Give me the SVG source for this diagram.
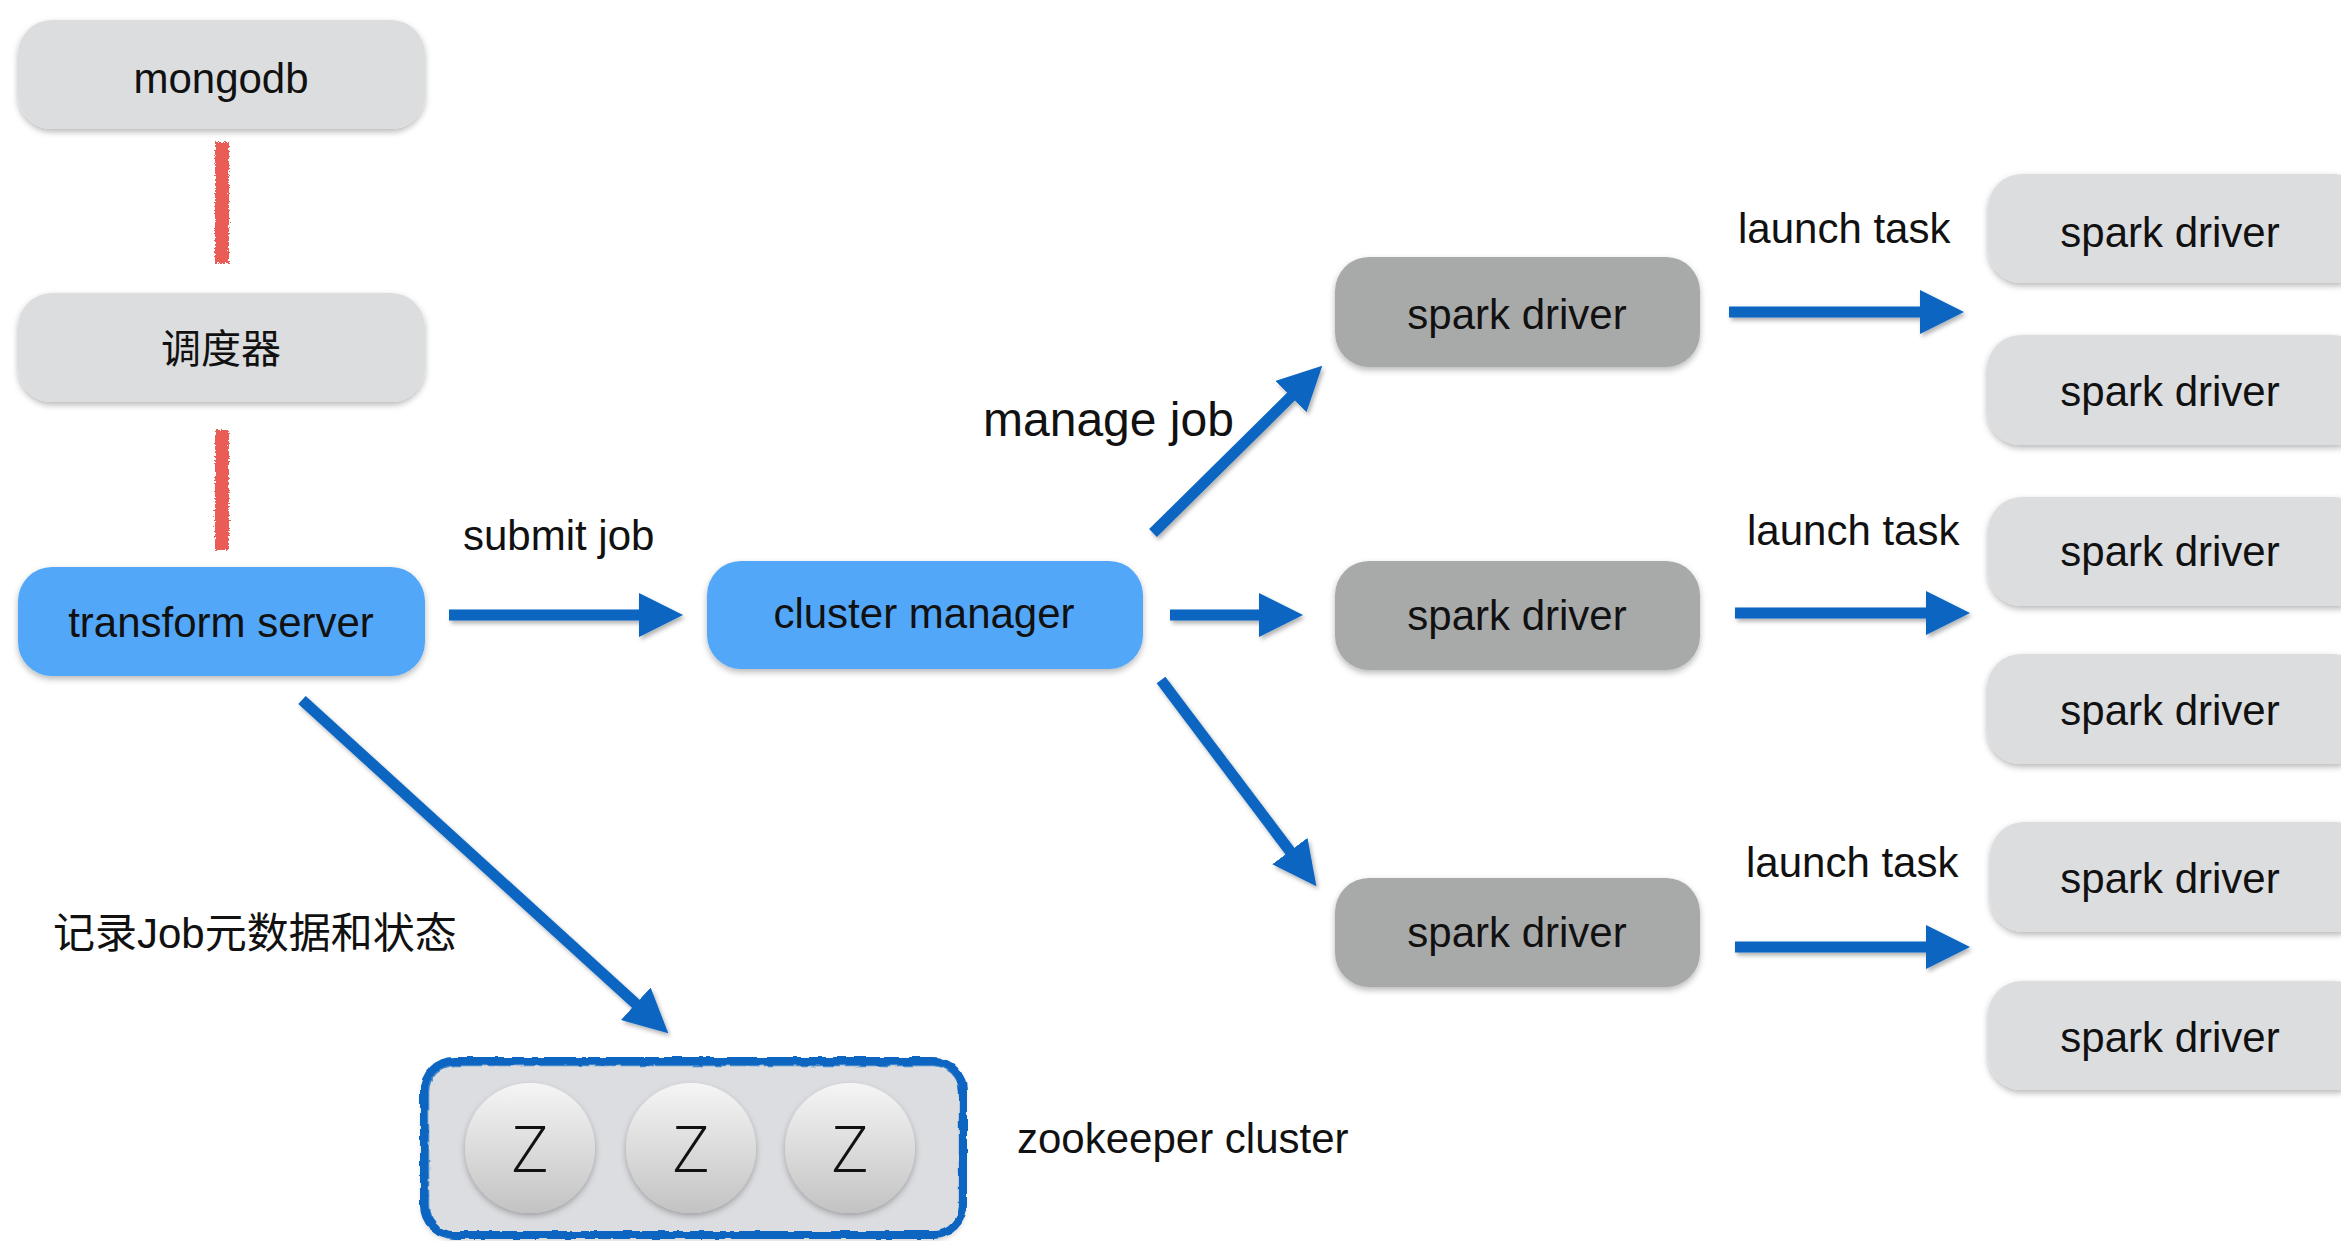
<svg xmlns="http://www.w3.org/2000/svg" width="2341" height="1241" viewBox="0 0 2341 1241">
  <defs>
    <style>
      .t { font-family: "Liberation Sans", Arial, sans-serif; font-size: 42px; fill: #111; }
      .c { text-anchor: middle; }
      .blue { fill: #53a7f8; }
      .dark { fill: #a8a9a9; }
      .light { fill: #dcdddf; }
      .conn { stroke: #0865c2; stroke-width: 11; fill: none; marker-end: url(#head); }
      .red { fill: #e95d57; }
      .z { font-family: "Open Sans", "Liberation Sans", sans-serif; font-weight: 300; font-size: 64px; fill: #111; text-anchor: middle; }
    </style>
    <filter id="shadow" x="-10%" y="-20%" width="120%" height="150%">
      <feDropShadow dx="0" dy="3" stdDeviation="3" flood-color="#000" flood-opacity="0.28"/>
    </filter>
    <filter id="ashadow" x="-20%" y="-20%" width="140%" height="140%">
      <feDropShadow dx="2" dy="3" stdDeviation="2" flood-color="#000" flood-opacity="0.3"/>
    </filter>
    <filter id="chalk" x="-50%" y="-10%" width="200%" height="120%">
      <feTurbulence type="fractalNoise" baseFrequency="0.6" numOctaves="2" seed="3" result="n"/>
      <feDisplacementMap in="SourceGraphic" in2="n" scale="5" xChannelSelector="R" yChannelSelector="G"/>
    </filter>
    <filter id="rough" x="-5%" y="-10%" width="110%" height="120%">
      <feTurbulence type="fractalNoise" baseFrequency="0.08" numOctaves="2" seed="7" result="n"/>
      <feDisplacementMap in="SourceGraphic" in2="n" scale="4" xChannelSelector="R" yChannelSelector="G"/>
    </filter>
    <linearGradient id="ball" x1="0" y1="0" x2="0" y2="1">
      <stop offset="0" stop-color="#f5f5f5"/>
      <stop offset="1" stop-color="#c3c3c3"/>
    </linearGradient>
    <marker id="head" viewBox="0 0 44 44" refX="1" refY="22" markerWidth="44" markerHeight="44" markerUnits="userSpaceOnUse" orient="auto">
      <path d="M0,0 L44,22 L0,44 z" fill="#0865c2"/>
    </marker>
  </defs>

  <rect width="2341" height="1241" fill="#ffffff"/>

  <g id="connectors">
    <rect class="red" x="215" y="142" width="14" height="121" filter="url(#chalk)"/>
    <rect class="red" x="215" y="430" width="14" height="120" filter="url(#chalk)"/>
    <g filter="url(#ashadow)">
      <line class="conn" x1="449" y1="615" x2="640" y2="615"/>
      <line class="conn" x1="302" y1="700" x2="636.5" y2="1004.4"/>
      <line class="conn" x1="1153" y1="533" x2="1291.7" y2="395.9"/>
      <line class="conn" x1="1170" y1="615" x2="1260" y2="615"/>
      <line class="conn" x1="1161" y1="680" x2="1290.5" y2="851.9"/>
      <line class="conn" x1="1729" y1="312" x2="1921" y2="312"/>
      <line class="conn" x1="1735" y1="613" x2="1927" y2="613"/>
      <line class="conn" x1="1735" y1="947" x2="1927" y2="947"/>
    </g>
    <text class="t" x="463" y="550">submit job</text>
    <text class="t" x="983" y="436" style="font-size:48px">manage job</text>
    <text class="t" x="1738" y="243">launch task</text>
    <text class="t" x="1747" y="545">launch task</text>
    <text class="t" x="1746" y="877">launch task</text>
    <text class="t" x="53" y="948" style="font-family:'Liberation Sans','Noto Sans CJK SC',sans-serif">记录Job元数据和状态</text>
    <text class="t" x="1017" y="1153">zookeeper cluster</text>
  </g>

  <g id="mongodb">
    <rect class="light" x="18" y="20" width="407" height="109" rx="34" filter="url(#shadow)"/>
    <text class="t c" x="221" y="93">mongodb</text>
  </g>
  <g id="scheduler">
    <rect class="light" x="18" y="293" width="407" height="109" rx="34" filter="url(#shadow)"/>
    <text class="t c" x="221" y="363" style="font-family:'Noto Sans CJK SC',sans-serif;font-size:40px">调度器</text>
  </g>
  <g id="transform-server">
    <rect class="blue" x="18" y="567" width="407" height="109" rx="34" filter="url(#shadow)"/>
    <text class="t c" x="221" y="637">transform server</text>
  </g>
  <g id="cluster-manager">
    <rect class="blue" x="707" y="561" width="436" height="108" rx="34" filter="url(#shadow)"/>
    <text class="t c" x="924" y="628">cluster manager</text>
  </g>

  <g id="driver-1">
    <rect class="dark" x="1335" y="257" width="365" height="110" rx="34" filter="url(#shadow)"/>
    <text class="t c" x="1517" y="329">spark driver</text>
  </g>
  <g id="driver-2">
    <rect class="dark" x="1335" y="561" width="365" height="109" rx="34" filter="url(#shadow)"/>
    <text class="t c" x="1517" y="630">spark driver</text>
  </g>
  <g id="driver-3">
    <rect class="dark" x="1335" y="878" width="365" height="109" rx="34" filter="url(#shadow)"/>
    <text class="t c" x="1517" y="947">spark driver</text>
  </g>

  <g id="executor-1">
    <rect class="light" x="1988" y="174" width="380" height="109" rx="34" filter="url(#shadow)"/>
    <text class="t c" x="2170" y="247">spark driver</text>
  </g>
  <g id="executor-2">
    <rect class="light" x="1987" y="335" width="380" height="110" rx="34" filter="url(#shadow)"/>
    <text class="t c" x="2170" y="406">spark driver</text>
  </g>
  <g id="executor-3">
    <rect class="light" x="1988" y="497" width="380" height="109" rx="34" filter="url(#shadow)"/>
    <text class="t c" x="2170" y="566">spark driver</text>
  </g>
  <g id="executor-4">
    <rect class="light" x="1987" y="654" width="380" height="110" rx="34" filter="url(#shadow)"/>
    <text class="t c" x="2170" y="725">spark driver</text>
  </g>
  <g id="executor-5">
    <rect class="light" x="1990" y="822" width="380" height="110" rx="34" filter="url(#shadow)"/>
    <text class="t c" x="2170" y="893">spark driver</text>
  </g>
  <g id="executor-6">
    <rect class="light" x="1988" y="981" width="380" height="109" rx="34" filter="url(#shadow)"/>
    <text class="t c" x="2170" y="1052">spark driver</text>
  </g>

  <g id="zookeeper">
    <rect x="423" y="1060" width="541" height="176" rx="30" fill="#dcdde0" filter="url(#shadow)"/>
    <g filter="url(#rough)" fill="none" stroke="#0865c2">
      <rect x="424" y="1061" width="539" height="174" rx="30" stroke-width="8"/>
      <rect x="428" y="1065" width="532" height="168" rx="27" stroke-width="2.5" stroke-opacity="0.7"/>
    </g>
    <g filter="url(#shadow)">
      <circle cx="530" cy="1148" r="65" fill="url(#ball)"/>
      <circle cx="691" cy="1148" r="65" fill="url(#ball)"/>
      <circle cx="850" cy="1148" r="65" fill="url(#ball)"/>
    </g>
    <text class="z" x="530" y="1172">Z</text>
    <text class="z" x="691" y="1172">Z</text>
    <text class="z" x="850" y="1172">Z</text>
  </g>
</svg>
